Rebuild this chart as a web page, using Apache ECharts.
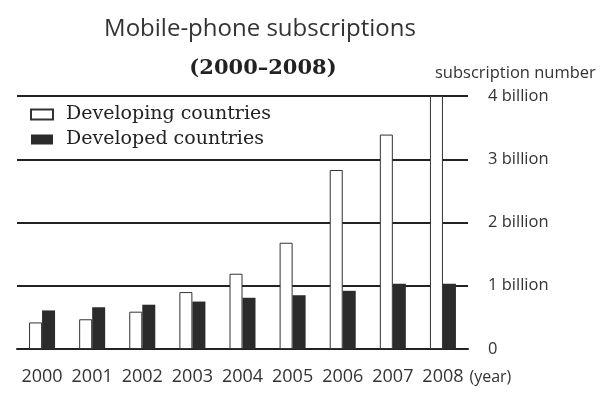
<!DOCTYPE html>
<html>
<head>
<meta charset="utf-8">
<script src="https://cdn.jsdelivr.net/npm/echarts@6/dist/echarts.min.js"></script>
<style>
  html, body { margin: 0; padding: 0; background: #fff; }
  #chart { width: 616px; height: 404px; }
</style>
</head>
<body>
<div id="chart"></div>
<script>
// values in billions
var years = ['2000', '2001', '2002', '2003', '2004', '2005', '2006', '2007', '2008'];
var developing = [0.42, 0.47, 0.59, 0.90, 1.19, 1.68, 2.83, 3.39, 4.0];
var developed = [0.61, 0.66, 0.70, 0.75, 0.81, 0.85, 0.92, 1.03, 1.03];
var yTicks = [0, 1, 2, 3, 4];

var chart = echarts.init(document.getElementById('chart'));

var option = {
  backgroundColor: '#fff',
  animation: false,
  title: [
    {
      text: 'Mobile-phone subscriptions',
      left: 255, top: 12,
      textAlign: 'center',
      textStyle: { fontFamily: 'Open Sans', fontWeight: 'normal', fontSize: 24, color: '#333' }
    },
    {
      text: '(2000\u20132008)',
      left: 258, top: 53,
      textAlign: 'center',
      textStyle: { fontFamily: 'DejaVu Serif', fontWeight: 'bold', fontSize: 21, color: '#222' }
    },
    {
      text: 'subscription number',
      left: 430, top: 60,
      textStyle: { fontFamily: 'Open Sans', fontWeight: 'normal', fontSize: 16.5, color: '#333' }
    }
  ],
  legend: {
    orient: 'vertical',
    left: 25, top: 100,
    itemWidth: 22, itemHeight: 10,
    itemGap: 6,
    icon: 'rect',
    textStyle: { fontFamily: 'DejaVu Serif', fontSize: 19, color: '#222', padding: [0, 0, 0, 8] },
    data: ['Developing countries', 'Developed countries']
  },
  grid: { left: 17, right: 148, top: 96, bottom: 55 },
  xAxis: {
    type: 'category',
    data: years,
    name: '(year)',
    nameLocation: 'end',
    nameGap: -6,
    nameTextStyle: { fontFamily: 'Open Sans', fontSize: 16, color: '#333', align: 'left', verticalAlign: 'top', padding: [20, 0, 0, 0] },
    axisLine: { lineStyle: { color: '#222', width: 2 } },
    axisTick: { show: false },
    axisLabel: { interval: 0, fontFamily: 'Open Sans', fontSize: 18, color: '#333', margin: 19 }
  },
  yAxis: {
    type: 'value',
    position: 'right',
    min: yTicks[0], max: yTicks[yTicks.length - 1], interval: 1,
    axisLine: { show: false },
    axisTick: { show: false },
    axisLabel: {
      fontFamily: 'Open Sans', fontSize: 16.5, color: '#333', margin: 20,
      formatter: function (v) { return v === 0 ? '0' : v + ' billion'; }
    },
    splitLine: { lineStyle: { color: '#222', width: 2 } }
  },
  series: [
    {
      name: 'Developing countries',
      type: 'bar',
      data: developing,
      barWidth: 13,
      barGap: '0%',
      itemStyle: { color: '#fff', borderColor: '#333', borderWidth: 1 }
    },
    {
      name: 'Developed countries',
      type: 'bar',
      data: developed,
      barWidth: 13,
      itemStyle: { color: '#2b2b2b' }
    }
  ]
};

chart.setOption(option);
</script>
</body>
</html>
